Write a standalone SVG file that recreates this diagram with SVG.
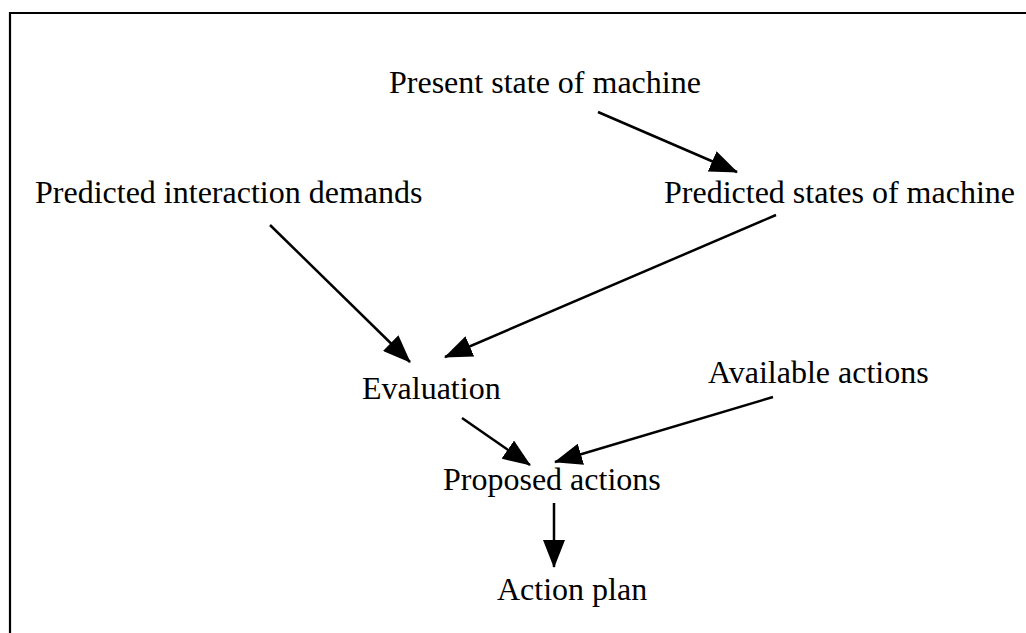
<svg xmlns="http://www.w3.org/2000/svg" width="1026" height="633" viewBox="0 0 1026 633">
<style>
.t{font-family:"Liberation Serif","Times New Roman",serif;font-size:32px;fill:#000}
.c{stroke:#000;stroke-width:2.5;fill:none;marker-end:url(#ah)}
</style>
<defs>
<marker id="ah" viewBox="0 0 28 22" refX="27" refY="11" markerWidth="28" markerHeight="22" markerUnits="userSpaceOnUse" orient="auto">
<path d="M0,0 L28,11 L0,22 z" fill="#000"/>
</marker>
</defs>
<rect width="1026" height="633" fill="#fff"/>
<path d="M10,633 V13 H1026" fill="none" stroke="#000" stroke-width="2.2"/>
<g id="present"><text class="t" x="389" y="93">Present state of machine</text></g>
<g id="interaction"><text class="t" x="35" y="203">Predicted interaction demands</text></g>
<g id="predicted"><text class="t" x="664" y="203">Predicted states of machine</text></g>
<g id="evaluation"><text class="t" x="362" y="399">Evaluation</text></g>
<g id="available"><text class="t" x="708" y="383">Available actions</text></g>
<g id="proposed"><text class="t" x="443" y="490">Proposed actions</text></g>
<g id="plan"><text class="t" x="497" y="600">Action plan</text></g>
<g id="connectors">
<line class="c" x1="598" y1="112" x2="737" y2="172"/>
<line class="c" x1="270" y1="225" x2="410" y2="362"/>
<line class="c" x1="776" y1="215" x2="445" y2="357"/>
<line class="c" x1="462" y1="418" x2="530" y2="465"/>
<line class="c" x1="773" y1="397" x2="555" y2="462"/>
<line class="c" x1="554" y1="503" x2="554" y2="567"/>
</g>
</svg>
